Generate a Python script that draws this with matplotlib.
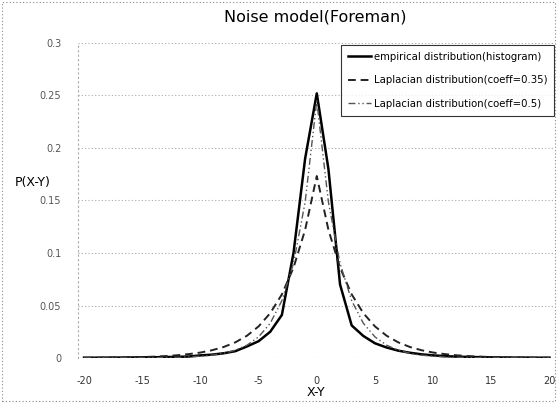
import matplotlib
matplotlib.use('Agg')
import matplotlib.pyplot as plt
from matplotlib.patches import Rectangle

# X-Y values (integer differences)
diff = list(range(-20, 21))

# empirical distribution (histogram)
empirical = [0.0003, 0.0003, 0.0004, 0.0004, 0.0005, 0.0006, 0.0007, 0.0009, 0.0011, 0.0014,
             0.0025, 0.0032, 0.0045, 0.0065, 0.0110, 0.0160, 0.0250, 0.0410, 0.1000, 0.1900,
             0.2520,
             0.1800, 0.0700, 0.0310, 0.0210, 0.0140, 0.0100, 0.0070, 0.0050, 0.0035, 0.0025,
             0.0018, 0.0013, 0.0010, 0.0008, 0.0006, 0.0005, 0.0004, 0.0004, 0.0003, 0.0003]

# Laplacian fit, coeff = 0.35
lap_035_half = [0.1733, 0.1221, 0.0860, 0.0606, 0.0427, 0.0301, 0.0212, 0.0149, 0.0105, 0.0074,
                0.0052, 0.0037, 0.0026, 0.0018, 0.0013, 0.0009, 0.0006, 0.0004, 0.0003, 0.0002,
                0.0002]
# Laplacian fit, coeff = 0.5
lap_05_half = [0.2449, 0.1485, 0.0901, 0.0546, 0.0331, 0.0201, 0.0122, 0.0074, 0.0045, 0.0027,
               0.0017, 0.0010, 0.0006, 0.0004, 0.0002, 0.0001, 0.0001, 0.0001, 0.0000, 0.0000,
               0.0000]
lap_035 = lap_035_half[:0:-1] + lap_035_half
lap_05 = lap_05_half[:0:-1] + lap_05_half

y_ticks = [0, 0.05, 0.1, 0.15, 0.2, 0.25, 0.3]
y_tick_labels = ['0', '0.05', '0.1', '0.15', '0.2', '0.25', '0.3']
x_ticks = [-20, -15, -10, -5, 0, 5, 10, 15, 20]

plt.rcParams['font.family'] = ['DejaVu Sans']

fig = plt.figure(figsize=(5.57, 4.03), dpi=100)
ax = fig.add_axes([78 / 557, 1 - 358 / 403, (553 - 78) / 557, (358 - 43) / 403])

ax.plot(diff, empirical, color='black', linewidth=1.8, label='empirical distribution(histogram)')
ax.plot(diff, lap_035, color='#222222', linewidth=1.4, dashes=(4, 2.5),
        label='Laplacian distribution(coeff=0.35)')
ax.plot(diff, lap_05, color='#555555', linewidth=1.0, dashes=(5, 2, 1, 2, 1, 2),
        label='Laplacian distribution(coeff=0.5)')

ax.set_xlim(-20.52, 20.3)
ax.set_ylim(0, 0.3)
ax.set_xticks(x_ticks)
ax.set_xticklabels([str(t) for t in x_ticks], fontsize=7, color='#333333')
ax.set_yticks(y_ticks)
ax.set_yticklabels(y_tick_labels, fontsize=7, color='#555555')
ax.tick_params(length=0, pad=12)
ax.tick_params(axis='x', pad=13)

ax.grid(axis='y', color='#aaaaaa', linestyle=(0, (1, 2)), linewidth=0.8)
for s in ['top', 'right', 'bottom']:
    ax.spines[s].set_visible(False)
ax.spines['left'].set_color('#aaaaaa')
ax.spines['left'].set_linestyle((0, (1, 3)))
ax.spines['left'].set_linewidth(0.8)

fig.text(315 / 557, 1 - 17 / 403, 'Noise model(Foreman)', fontsize=11.5,
         ha='center', va='center')
ax.set_xlabel('X-Y', fontsize=9, labelpad=0)
fig.text(33 / 557, 1 - 183 / 403, 'P(X-Y)', fontsize=9, ha='center', va='center')

leg = ax.legend(loc='upper right', bbox_to_anchor=(1.003, 0.995), fontsize=7.3, frameon=True,
                fancybox=False, edgecolor='black', handlelength=2.2, borderpad=0.7,
                labelspacing=1.35, handletextpad=0.3, borderaxespad=0)
leg.get_frame().set_linewidth(0.8)

# outer chart border
fig.patches.append(Rectangle((0.003, 0.004), 0.993, 0.991, transform=fig.transFigure,
                             fill=False, edgecolor='#888888', linewidth=0.8,
                             linestyle=(0, (1, 2))))

fig.savefig('out.png', dpi=100, facecolor='white')
